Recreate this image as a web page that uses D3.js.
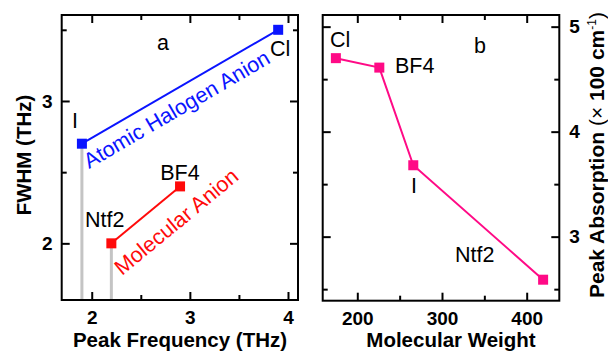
<!DOCTYPE html>
<html>
<head>
<meta charset="utf-8">
<script src="https://cdn.jsdelivr.net/npm/d3@7"></script>
<style>
  html, body { margin: 0; padding: 0; background: #fff; }
  svg { display: block; }
  text { font-family: "Liberation Sans", Arial, sans-serif; }
</style>
</head>
<body>
<svg id="chart" width="608" height="353"></svg>
<script>
// Panel a: peak frequency vs. FWHM for each anion
const anionsA = ["I", "Cl", "Ntf2", "BF4"];
const peakFreq = [1.9, 3.9, 2.2, 2.9];
const fwhm = [2.70, 3.50, 2.00, 2.40];
const halogenAnions = ["I", "Cl"];
const molecularAnions = ["Ntf2", "BF4"];
const droppedAnions = ["I", "Ntf2"];

// Panel b: molecular weight vs. peak absorption
const anionsB = ["Cl", "BF4", "I", "Ntf2"];
const molWeight = [174.7, 226.0, 266.1, 419.4];
const peakAbs = [4.70, 4.61, 3.68, 2.59];

// Tick values
const xTicksA = [2, 3, 4], xMinorA = [2.5, 3.5];
const yTicksA = [2, 3], yMinorA = [2.5, 3.5];
const xTicksB = [200, 300, 400], xMinorB = [250, 350];
const yTicksB = [3, 4, 5], yMinorB = [2.5, 3.5, 4.5];

const svg = d3.select("#chart");

const xA = d3.scaleLinear().domain([1.694, 4.102]).range([61.7, 298]);
const yA = d3.scaleLinear().domain([1.602, 3.604]).range([300, 15]);
const xB = d3.scaleLinear().domain([159.15, 438.5]).range([322.7, 559.3]);
const yB = d3.scaleLinear().domain([2.39, 5.111]).range([300.7, 15]);

const MAJ = 8, MIN = 5;

function styleAxis(sel, showText) {
  sel.select(".domain").remove();
  sel.selectAll(".tick line").attr("stroke", "#000").attr("stroke-width", 2);
  sel.selectAll(".tick text")
    .attr("fill", "#000")
    .style("font-size", "19px")
    .style("font-weight", "bold")
    .style("display", showText ? null : "none");
}

// Box with inward ticks on all four sides
function frame(x, y, xMaj, xMin, yMaj, yMin, ySide) {
  const [x0, x1] = x.range();
  const [y0, y1] = y.range();
  const g = svg.append("g");
  const fmt = d3.format("d");

  g.append("g").attr("transform", `translate(0,${y0})`)
    .call(d3.axisBottom(x).tickValues(xMaj).tickSize(-MAJ).tickPadding(11).tickFormat(fmt))
    .call(s => styleAxis(s, true));
  g.append("g").attr("transform", `translate(0,${y0})`)
    .call(d3.axisBottom(x).tickValues(xMin).tickSize(-MIN).tickFormat(""))
    .call(s => styleAxis(s, false));
  g.append("g").attr("transform", `translate(0,${y1})`)
    .call(d3.axisTop(x).tickValues(xMaj).tickSize(-MAJ).tickFormat(""))
    .call(s => styleAxis(s, false));
  g.append("g").attr("transform", `translate(0,${y1})`)
    .call(d3.axisTop(x).tickValues(xMin).tickSize(-MIN).tickFormat(""))
    .call(s => styleAxis(s, false));

  g.append("g").attr("transform", `translate(${x0},0)`)
    .call(d3.axisLeft(y).tickValues(yMaj).tickSize(-MAJ).tickPadding(9).tickFormat(fmt))
    .call(s => styleAxis(s, ySide === "left"));
  g.append("g").attr("transform", `translate(${x0},0)`)
    .call(d3.axisLeft(y).tickValues(yMin).tickSize(-MIN).tickFormat(""))
    .call(s => styleAxis(s, false));
  g.append("g").attr("transform", `translate(${x1},0)`)
    .call(d3.axisRight(y).tickValues(yMaj).tickSize(-MAJ).tickPadding(10).tickFormat(fmt))
    .call(s => styleAxis(s, ySide === "right"));
  g.append("g").attr("transform", `translate(${x1},0)`)
    .call(d3.axisRight(y).tickValues(yMin).tickSize(-MIN).tickFormat(""))
    .call(s => styleAxis(s, false));

  g.append("rect")
    .attr("x", x0).attr("y", y1)
    .attr("width", x1 - x0).attr("height", y0 - y1)
    .attr("fill", "none").attr("stroke", "#000").attr("stroke-width", 2);
}

// ---------- Panel a ----------
const pointsA = anionsA.map((a, i) => ({ anion: a, x: peakFreq[i], y: fwhm[i] }));
const byName = n => pointsA.find(p => p.anion === n);

// grey drop lines to the frequency axis
svg.append("g").selectAll("line")
  .data(droppedAnions.map(byName))
  .join("line")
  .attr("x1", d => xA(d.x)).attr("x2", d => xA(d.x))
  .attr("y1", d => yA(d.y)).attr("y2", yA.range()[0])
  .attr("stroke", "#c4c4c4").attr("stroke-width", 3);

const lineA = d3.line().x(d => xA(d.x)).y(d => yA(d.y));
const groupsA = [
  { names: halogenAnions, color: "#0a14ff" },
  { names: molecularAnions, color: "#ff0a0a" }
];
groupsA.forEach(gr => {
  const pts = gr.names.map(byName);
  svg.append("path").datum(pts)
    .attr("d", lineA).attr("fill", "none")
    .attr("stroke", gr.color).attr("stroke-width", 2);
  svg.append("g").selectAll("rect").data(pts).join("rect")
    .attr("x", d => xA(d.x) - 5).attr("y", d => yA(d.y) - 5)
    .attr("width", 10).attr("height", 10)
    .attr("fill", gr.color);
});

frame(xA, yA, xTicksA, xMinorA, yTicksA, yMinorA, "left");

// ---------- Panel b ----------
const pointsB = anionsB.map((a, i) => ({ anion: a, x: molWeight[i], y: peakAbs[i] }));
const pink = "#ff0a86";
svg.append("path").datum(pointsB)
  .attr("d", d3.line().x(d => xB(d.x)).y(d => yB(d.y)))
  .attr("fill", "none").attr("stroke", pink).attr("stroke-width", 2);
svg.append("g").selectAll("rect").data(pointsB).join("rect")
  .attr("x", d => xB(d.x) - 5).attr("y", d => yB(d.y) - 5)
  .attr("width", 10).attr("height", 10)
  .attr("fill", pink);

frame(xB, yB, xTicksB, xMinorB, yTicksB, yMinorB, "right");

// ---------- Annotations ----------
function note(txt, x, y, opts = {}) {
  return svg.append("text")
    .attr("x", x).attr("y", y)
    .attr("text-anchor", opts.anchor || "start")
    .attr("transform", opts.rotate ? `rotate(${opts.rotate},${x},${y})` : null)
    .attr("fill", opts.color || "#000")
    .style("font-size", (opts.size || 21.5) + "px")
    .text(txt);
}

note("a", 163, 50, { anchor: "middle" });
note("Cl", 270, 56);
note("I", 75, 128, { anchor: "middle" });
note("BF4", 180, 180, { anchor: "middle" });
note("Ntf2", 85, 227);
note("Atomic Halogen Anion", 89, 169, { rotate: -30.3, color: "#0a14ff" });
note("Molecular Anion", 122, 276, { rotate: -39.5, color: "#ff0a0a" });

note("b", 480, 53, { anchor: "middle" });
note("Cl", 330, 47);
note("BF4", 395, 73);
note("I", 414, 193, { anchor: "middle" });
note("Ntf2", 455, 262);

// ---------- Axis titles ----------
function title(x, y, rotate, anchor, size) {
  return svg.append("text")
    .attr("x", x).attr("y", y)
    .attr("text-anchor", anchor)
    .attr("transform", rotate ? `rotate(${rotate},${x},${y})` : null)
    .style("font-size", (size || 20.5) + "px").style("font-weight", "bold")
    .attr("fill", "#000");
}
title(180, 347, 0, "middle").text("Peak Frequency (THz)");
title(451, 347, 0, "middle").text("Molecular Weight");
title(31, 155, -90, "middle").text("FWHM (THz)");

const pa = title(604, 298, -90, "start", 21);
pa.append("tspan").text("Peak Absorption ");
pa.append("tspan").style("font-weight", "normal").text("(\u00d7 ");
pa.append("tspan").text("100 cm");
pa.append("tspan").attr("dy", -8).style("font-size", "12px").style("font-weight", "normal").text("-1");
pa.append("tspan").attr("dy", 8).style("font-weight", "normal").text(")");
</script>
</body>
</html>
